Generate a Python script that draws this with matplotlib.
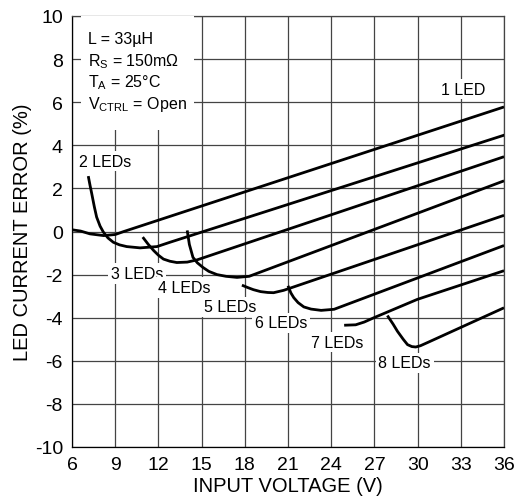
import matplotlib
matplotlib.use("Agg")
import matplotlib.pyplot as plt
from matplotlib.patches import Rectangle

plt.rcParams.update({
    "font.family": "Liberation Sans",
    "mathtext.fontset": "custom",
    "mathtext.rm": "Liberation Sans",
    "mathtext.it": "Liberation Sans:italic",
    "axes.unicode_minus": False,
})

# curves: input voltage (V) vs LED current error (%)
v_1led = [6.0, 6.6, 7.25, 8.2, 9.0, 9.6, 36.0]
e_1led = [0.08, 0.02, -0.11, -0.19, -0.14, 0.0, 5.78]
v_2led = [7.13, 7.25, 7.37, 7.55, 7.71, 7.95, 8.18, 8.5, 8.87, 9.3, 9.8, 10.73, 11.9, 12.8, 36.1]
e_2led = [2.57, 2.15, 1.76, 1.15, 0.67, 0.25, -0.03, -0.3, -0.5, -0.62, -0.70, -0.76, -0.70, -0.5, 4.49]
v_3led = [10.91, 11.3, 11.68, 12.0, 12.35, 12.8, 13.28, 14.0, 14.67, 36.0]
e_3led = [-0.26, -0.6, -0.89, -1.1, -1.28, -1.38, -1.44, -1.42, -1.32, 3.47]
v_4led = [14.0, 14.15, 14.4, 14.7, 15.1, 15.5, 16.07, 16.7, 17.46, 18.3, 36.0]
e_4led = [0.05, -0.6, -1.2, -1.45, -1.67, -1.85, -2.0, -2.08, -2.13, -2.08, 2.35]
v_5led = [17.8, 18.2, 18.6, 19.1, 19.6, 20.0, 20.7, 36.0]
e_5led = [-2.49, -2.6, -2.7, -2.79, -2.83, -2.84, -2.73, 0.75]
v_6led = [21.0, 21.2, 21.4, 21.7, 22.1, 22.6, 23.3, 24.2, 36.0]
e_6led = [-2.52, -2.85, -3.07, -3.3, -3.5, -3.6, -3.66, -3.61, -0.65]
v_7led = [24.9, 25.7, 26.3, 26.97, 29.98, 36.0]
e_7led = [-4.35, -4.33, -4.2, -4.0, -3.15, -1.82]
v_8led = [27.9, 28.3, 28.6, 29.0, 29.3, 29.6, 29.87, 30.2, 30.7, 33.2, 36.0]
e_8led = [-3.9, -4.3, -4.63, -5.0, -5.25, -5.34, -5.36, -5.3, -5.15, -4.39, -3.54]

curve_v = [v_1led, v_2led, v_3led, v_4led, v_5led, v_6led, v_7led, v_8led]
curve_e = [e_1led, e_2led, e_3led, e_4led, e_5led, e_6led, e_7led, e_8led]

curve_labels = ["1 LED", "2 LEDs", "3 LEDs", "4 LEDs", "5 LEDs", "6 LEDs", "7 LEDs", "8 LEDs"]
label_v = [33.2, 8.3, 10.5, 13.8, 17.0, 20.5, 24.4, 29.1]
label_e = [6.6, 3.27, -1.95, -2.6, -3.5, -4.24, -5.13, -6.1]

cond_lines = [r"L = 33µH", r"R$_\mathregular{S}$ = 150m$\Omega$",
              r"T$_\mathregular{A}$ = 25°C", r"V$_\mathregular{CTRL}$ = Open"]
cond_e = [8.95, 7.95, 6.95, 5.95]

x_ticks = [6, 9, 12, 15, 18, 21, 24, 27, 30, 33, 36]
y_ticks = [-10, -8, -6, -4, -2, 0, 2, 4, 6, 8, 10]

fig = plt.figure(figsize=(5.21, 5.02), dpi=100)
ax = fig.add_axes([72 / 521, 1 - 448 / 502, (504 - 72) / 521, (448 - 17) / 502])

ax.set_xlim(6, 36)
ax.set_ylim(-10, 10)
ax.set_xticks(x_ticks)
ax.set_yticks(y_ticks)
ax.tick_params(length=0, labelsize=14, pad=6.5)
ax.grid(True, color="#444444", linewidth=0.9)
ax.set_axisbelow(True)
for s in ax.spines.values():
    s.set_color("#444444")
    s.set_linewidth(0.9)
ax.spines["left"].set_color("black")
ax.spines["bottom"].set_color("black")

for v, e in zip(curve_v, curve_e):
    ax.plot(v, e, color="black", linewidth=2.0, zorder=5, solid_capstyle="butt")

for txt, v, e in zip(curve_labels, label_v, label_e):
    ax.text(v, e, txt, fontsize=11.5, ha="center", va="center", zorder=4,
            bbox=dict(facecolor="white", edgecolor="none", pad=2))

# white box behind the test conditions
ax.add_patch(Rectangle((6.6, 4.7), 14.5 - 6.6, 5.3, facecolor="white",
                       edgecolor="none", zorder=3))
for txt, e in zip(cond_lines, cond_e):
    ax.text(7.1, e, txt, fontsize=11.5, ha="left", va="center", zorder=4)

ax.set_xlabel("INPUT VOLTAGE (V)", fontsize=14.5, labelpad=2)
ax.set_ylabel("LED CURRENT ERROR (%)", fontsize=14.5, labelpad=2)

fig.savefig("out.png", dpi=100)
